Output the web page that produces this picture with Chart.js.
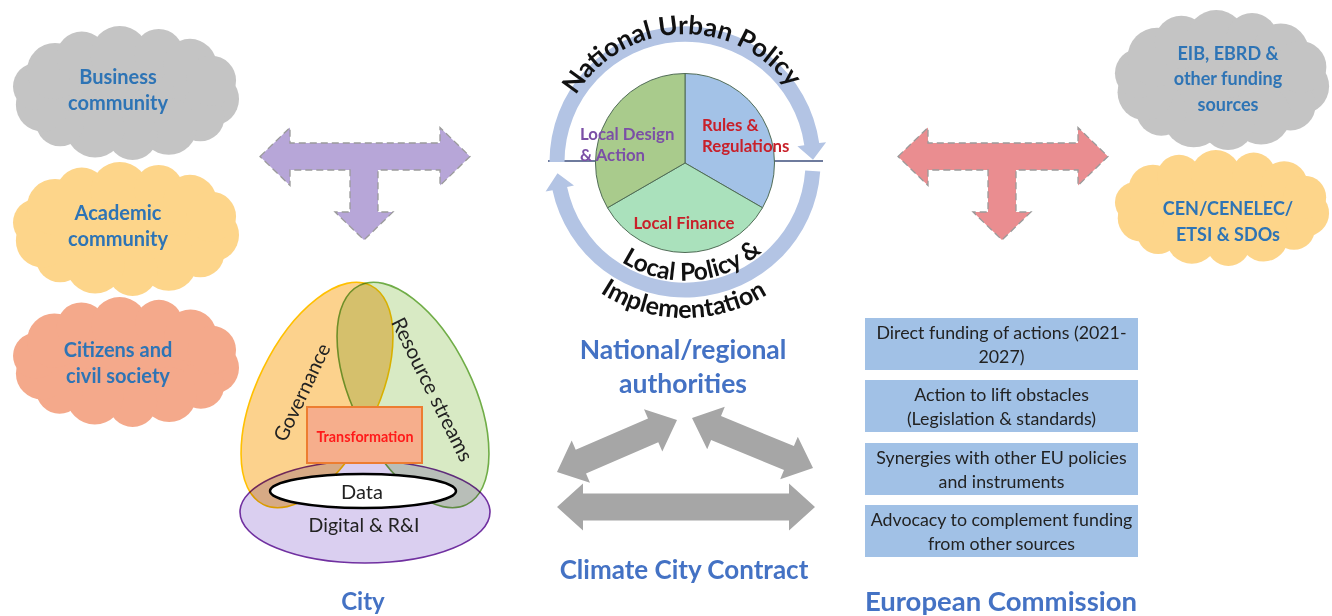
<!DOCTYPE html>
<html><head><meta charset="utf-8">
<script src="https://cdn.jsdelivr.net/npm/chart.js@4.4.0/dist/chart.umd.min.js"></script>
<style>
html,body{margin:0;padding:0;background:#fff;}
#stage{position:relative;width:1332px;height:616px;overflow:hidden;font-family:Lato,'Open Sans',sans-serif;}
#bg,#fg{position:absolute;left:0;top:0;}
#pieBox{position:absolute;left:595px;top:73px;width:180px;height:180px;}
#fg{pointer-events:none}
text{font-family:Lato,'Open Sans',sans-serif;}
</style></head>
<body><div id="stage">
<svg id="bg" width="1332" height="616"></svg>
<div id="pieBox"><canvas id="pie" width="180" height="180"></canvas></div>
<svg id="fg" width="1332" height="616"></svg>
</div>
<script>
// ---- data ----
const sliceLabels = ['Rules & Regulations', 'Local Finance', 'Local Design & Action'];
const sliceValues = [1, 1, 1];
const sliceLabelLines = [['Rules &', 'Regulations'], ['Local Finance'], ['Local Design', '& Action']];
const leftClouds = [['Business', 'community'], ['Academic', 'community'], ['Citizens and', 'civil society']];
const rightClouds = [['EIB, EBRD &', 'other funding', 'sources'], ['CEN/CENELEC/', 'ETSI & SDOs']];
const ecActions = [['Direct funding of actions (2021-', '2027)'], ['Action to lift obstacles', '(Legislation & standards)'], ['Synergies with other EU policies', 'and instruments'], ['Advocacy to complement funding', 'from other sources']];
const cityLayers = ['Governance', 'Resource streams', 'Transformation', 'Data', 'Digital & R&I'];
const ringTexts = ['National Urban Policy', 'Local Policy &', 'Implementation'];
const actorTitles = ['City', ['National/regional', 'authorities'], 'Climate City Contract', 'European Commission'];

// ---- helpers ----
const NS = 'http://www.w3.org/2000/svg';
function el(parent, tag, attrs, text) {
  const e = document.createElementNS(NS, tag);
  for (const k in attrs) e.setAttribute(k, attrs[k]);
  if (text != null) e.textContent = text;
  parent.appendChild(e);
  return e;
}
function mtext(g, x, y, lines, lh, attrs) {
  const t = el(g, 'text', Object.assign({x: x, 'text-anchor': 'middle', 'dominant-baseline': 'central'}, attrs));
  const y0 = y - (lines.length - 1) * lh / 2;
  lines.forEach((s, i) => el(t, 'tspan', {x: x, y: y0 + i * lh, 'dominant-baseline': 'central'}, s));
  return t;
}
function cloud(g, cx, cy, rx, ry, fill) {
  const grp = el(g, 'g', {fill: fill});
  el(grp, 'ellipse', {cx: cx, cy: cy, rx: rx * 0.8, ry: ry * 0.72});
  const sc = [1, 0.9, 1.06, 0.94, 1.1, 0.9, 1.0, 0.88, 1.05, 0.95, 1.08, 0.92, 1.0, 0.93];
  const n = sc.length;
  for (let i = 0; i < n; i++) {
    const a = i / n * 2 * Math.PI + 0.15;
    const rb = ry * 0.4 * sc[i];
    el(grp, 'circle', {cx: cx + (rx - rb) * Math.cos(a), cy: cy + (ry - rb) * Math.sin(a), r: rb});
  }
}
function dblArrow(g, x1, y1, x2, y2, t, w, L, fill) {
  const dx = x2 - x1, dy = y2 - y1, len = Math.hypot(dx, dy);
  const ux = dx / len, uy = dy / len, nx = -uy, ny = ux;
  const P = (s, n) => (x1 + ux * s + nx * n).toFixed(1) + ',' + (y1 + uy * s + ny * n).toFixed(1);
  const pts = [P(0, 0), P(L, w / 2), P(L, t / 2), P(len - L, t / 2), P(len - L, w / 2), P(len, 0), P(len - L, -w / 2), P(len - L, -t / 2), P(L, -t / 2), P(L, -w / 2)];
  el(g, 'polygon', {points: pts.join(' '), fill: fill});
}
function tArrow(g, x0, x1, cy, t, hw, hl, sx, sw, stemEnd, tipY, fill) {
  const pts = [[x0, cy], [x0 + hl, cy - hw / 2], [x0 + hl, cy - t / 2], [x1 - hl, cy - t / 2], [x1 - hl, cy - hw / 2], [x1, cy],
    [x1 - hl, cy + hw / 2], [x1 - hl, cy + t / 2], [sx + sw / 2, cy + t / 2], [sx + sw / 2, stemEnd], [sx + hw / 2, stemEnd], [sx, tipY],
    [sx - hw / 2, stemEnd], [sx - sw / 2, stemEnd], [sx - sw / 2, cy + t / 2], [x0 + hl, cy + t / 2], [x0 + hl, cy + hw / 2]];
  el(g, 'polygon', {points: pts.map(p => p.join(',')).join(' '), fill: fill, stroke: '#9a9a9a', 'stroke-width': 1.3, 'stroke-dasharray': '7 4'});
}
const rad = a => a * Math.PI / 180;
function ringArrow(g, cx, cy, r, w, hw, a0, aBase, aTip, fill) {
  const pt = (rr, a) => (cx + rr * Math.cos(rad(a))).toFixed(1) + ',' + (cy + rr * Math.sin(rad(a))).toFixed(1);
  const large = Math.abs(aBase - a0) > 180 ? 1 : 0;
  const ro = r + w / 2, ri = r - w / 2;
  const d = `M${pt(ro, a0)} A${ro},${ro} 0 ${large} 1 ${pt(ro, aBase)} L${pt(r + hw / 2, aBase)} L${pt(r, aTip)} L${pt(r - hw / 2, aBase)} L${pt(ri, aBase)} A${ri},${ri} 0 ${large} 0 ${pt(ri, a0)} Z`;
  el(g, 'path', {d: d, fill: fill});
}
function arcPath(cx, cy, r, a0, a1, sweep) {
  const p = a => (cx + r * Math.cos(rad(a))).toFixed(1) + ',' + (cy + r * Math.sin(rad(a))).toFixed(1);
  return `M${p(a0)} A${r},${r} 0 0 ${sweep} ${p(a1)}`;
}

const bg = document.getElementById('bg'), fg = document.getElementById('fg');
const defs = el(bg, 'defs', {});
const blueTitle = '#4472c4', cloudText = '#2e74b5';

// ---- left clouds ----
const lc = [[126, 93, 114, 67, '#c4c4c4'], [126, 229, 114, 67, '#fdd58a'], [126, 362, 114, 65, '#f4a98b']];
lc.forEach((c, i) => {
  cloud(bg, c[0], c[1], c[2], c[3], c[4]);
  mtext(bg, 118, [89, 225, 362][i], leftClouds[i], 26, {fill: cloudText, 'font-weight': 700, 'font-size': 20});
});
// ---- right clouds ----
const rc = [[1222, 80, 108, 70, '#c4c4c4'], [1222, 208, 108, 58, '#fdd58a']];
rc.forEach((c, i) => {
  cloud(bg, c[0], c[1], c[2], c[3], c[4]);
  mtext(bg, 1228, [78, 221][i], rightClouds[i], 25.5, {fill: cloudText, 'font-weight': 700, 'font-size': 18});
});

// ---- T arrows ----
tArrow(bg, 260, 470, 156.5, 27, 58, 30, 364, 28, 212, 240, '#b7a6d8');
tArrow(bg, 898, 1108, 156.5, 27, 58, 30, 1002, 28, 212, 240, '#ea8d90');

// ---- ring around the pie ----
const RC = [685, 162];
el(bg, 'line', {x1: 548, y1: 161, x2: 823, y2: 161, stroke: '#3e4f7c', 'stroke-width': 1.3});
ringArrow(bg, RC[0], RC[1], 128, 15, 29, 180, 352, 359, '#b3c4e4');
ringArrow(bg, RC[0], RC[1], 128, 15, 29, 4, 168, 175, '#b3c4e4');
el(defs, 'path', {id: 'npath', d: arcPath(RC[0], RC[1], 128, 185, 355, 1)});
el(defs, 'path', {id: 'lpath', d: arcPath(RC[0], RC[1], 118, 175, 5, 0)});
el(defs, 'path', {id: 'ipath', d: arcPath(RC[0], RC[1], 156, 175, 5, 0)});
[['npath', ringTexts[0], '48.8%', 26], ['lpath', ringTexts[1], '52.4%', 24.5], ['ipath', ringTexts[2], '49.7%', 25]].forEach(r => {
  const t = el(bg, 'text', {'font-size': r[3], 'font-weight': 700, fill: '#111'});
  el(t, 'textPath', {href: '#' + r[0], startOffset: r[2], 'text-anchor': 'middle'}, r[1]);
});

// ---- titles ----
mtext(bg, 683, 366, actorTitles[1], 34, {fill: blueTitle, 'font-weight': 700, 'font-size': 26.5});
mtext(bg, 684, 569, [actorTitles[2]], 0, {fill: blueTitle, 'font-weight': 700, 'font-size': 26});
mtext(bg, 363, 600, [actorTitles[0]], 0, {fill: blueTitle, 'font-weight': 700, 'font-size': 24});
mtext(bg, 1001, 600, [actorTitles[3]], 0, {fill: blueTitle, 'font-weight': 700, 'font-size': 27.5});

// ---- grey arrows ----
dblArrow(bg, 557, 472, 677, 420, 26, 46, 26, '#a6a6a6');
dblArrow(bg, 692, 418, 813, 468, 26, 46, 26, '#a6a6a6');
dblArrow(bg, 557, 507, 815, 507, 27, 47, 26, '#a6a6a6');

// ---- EC boxes ----
[318, 380, 443, 505].forEach((y, i) => {
  el(bg, 'rect', {x: 865, y: y, width: 273, height: 52, fill: '#a1c1e6'});
  mtext(bg, 1001.5, y + 26, ecActions[i], 23.5, {fill: '#222', 'font-size': 17.8});
});

// ---- city diagram ----
const city = el(bg, 'g', {});
el(city, 'ellipse', {cx: 317, cy: 395, rx: 122, ry: 60, transform: 'rotate(-64 317 395)', fill: '#fcd28d', stroke: '#ffc000', 'stroke-width': 1.6});
el(city, 'ellipse', {cx: 413, cy: 395, rx: 122, ry: 60, transform: 'rotate(64 413 395)', fill: '#d8eac4', stroke: '#70ad47', 'stroke-width': 1.6, style: 'mix-blend-mode:multiply'});
el(city, 'ellipse', {cx: 365, cy: 512, rx: 125, ry: 51, fill: '#dacff0', stroke: '#7030a0', 'stroke-width': 1.6, style: 'mix-blend-mode:multiply'});
el(city, 'rect', {x: 307, y: 407, width: 115, height: 56, fill: '#f6ae8c', stroke: '#ed7d31', 'stroke-width': 2});
el(city, 'ellipse', {cx: 363, cy: 491, rx: 93, ry: 17, fill: '#fff', stroke: '#000', 'stroke-width': 2.5});
mtext(city, 365, 436, [cityLayers[2]], 0, {fill: '#ff1a1a', 'font-weight': 700, 'font-size': 14.3});
mtext(city, 362, 491, [cityLayers[3]], 0, {fill: '#222', 'font-size': 20});
mtext(city, 364, 524, [cityLayers[4]], 0, {fill: '#222', 'font-size': 19.5});
mtext(city, 301, 392, [cityLayers[0]], 0, {fill: '#222', 'font-size': 20, transform: 'rotate(-64.5 301 392)'});
mtext(city, 433, 389, [cityLayers[1]], 0, {fill: '#222', 'font-size': 20.5, transform: 'rotate(63.6 433 389)'});

// ---- pie labels (fg) ----
const pl = [[702, 124, 'start', '#c8202a'], [684, 222, 'middle', '#c8202a'], [580, 133, 'start', '#7b4fa6']];
sliceLabelLines.forEach((lines, i) => {
  const t = el(fg, 'text', {'font-size': 16.8, 'font-weight': 700, fill: pl[i][3], 'text-anchor': pl[i][2]});
  lines.forEach((s, j) => el(t, 'tspan', {x: pl[i][0], y: pl[i][1] + j * 21, 'dominant-baseline': 'central'}, s));
});

// ---- pie chart ----
new Chart(document.getElementById('pie'), {
  type: 'pie',
  data: {labels: sliceLabels, datasets: [{data: sliceValues, backgroundColor: ['#a3c2e7', '#aae1bc', '#a9cb8c'], borderColor: '#4f6b55', borderWidth: 1}]},
  options: {responsive: false, animation: false, layout: {padding: 0}, plugins: {legend: {display: false}, tooltip: {enabled: false}}}
});
</script>
</body></html>
